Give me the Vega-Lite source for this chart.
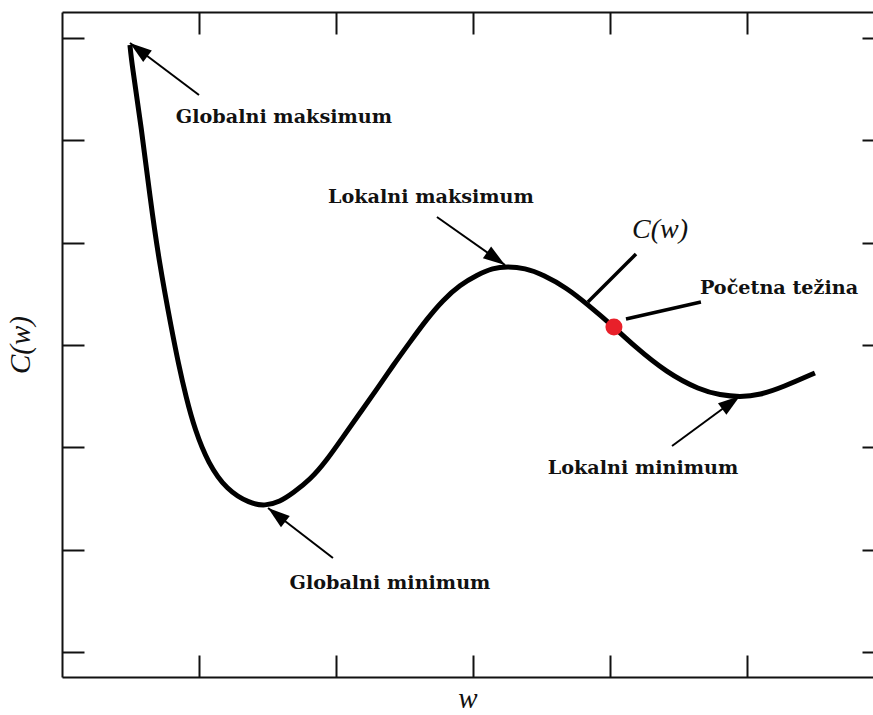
{
  "$schema": "https://vega.github.io/schema/vega-lite/v6.json",
  "width": 811,
  "height": 665,
  "autosize": {"type": "none"},
  "padding": {"left": 62, "top": 12, "right": 0, "bottom": 38},
  "background": "white",
  "config": {
    "view": {"stroke": null},
    "axis": {"grid": false, "labels": false, "domainColor": "#111", "tickColor": "#111", "domainWidth": 2, "tickWidth": 2, "titleColor": "#111", "titleFont": "Liberation Serif", "titleFontStyle": "italic", "titleFontWeight": "normal", "titleFontSize": 29}
  },
  "datasets": {
    "curve": [
      {"w": 0.496, "c": 2.928}, {"w": 0.509, "c": 2.752}, {"w": 0.582, "c": 2.098}, {"w": 0.642, "c": 1.444},
      {"w": 0.710, "c": 0.800}, {"w": 0.801, "c": 0.146}, {"w": 0.849, "c": -0.176}, {"w": 0.905, "c": -0.507},
      {"w": 0.971, "c": -0.830}, {"w": 1.066, "c": -1.152}, {"w": 1.202, "c": -1.415}, {"w": 1.372, "c": -1.547},
      {"w": 1.482, "c": -1.571}, {"w": 1.591, "c": -1.530}, {"w": 1.686, "c": -1.444}, {"w": 1.810, "c": -1.317},
      {"w": 1.934, "c": -1.122}, {"w": 2.051, "c": -0.898}, {"w": 2.175, "c": -0.664}, {"w": 2.299, "c": -0.429},
      {"w": 2.416, "c": -0.200}, {"w": 2.540, "c": 0.029}, {"w": 2.664, "c": 0.254}, {"w": 2.781, "c": 0.439},
      {"w": 2.905, "c": 0.586}, {"w": 3.029, "c": 0.683}, {"w": 3.146, "c": 0.751}, {"w": 3.248, "c": 0.766},
      {"w": 3.380, "c": 0.751}, {"w": 3.511, "c": 0.686}, {"w": 3.686, "c": 0.556},
      {"w": 3.832, "c": 0.400}, {"w": 4.029, "c": 0.176}, {"w": 4.168, "c": 0.000}, {"w": 4.416, "c": -0.273},
      {"w": 4.657, "c": -0.439}, {"w": 4.803, "c": -0.488}, {"w": 4.949, "c": -0.508}, {"w": 5.095, "c": -0.488},
      {"w": 5.263, "c": -0.410}, {"w": 5.496, "c": -0.273}
    ],
    "arrows": [
      {"x1": 1.000, "y1": 2.440, "x2": 0.496, "y2": 2.947, "angle": 307},
      {"x1": 2.737, "y1": 1.249, "x2": 3.234, "y2": 0.781, "angle": 125},
      {"x1": 1.978, "y1": -2.079, "x2": 1.504, "y2": -1.591, "angle": 308},
      {"x1": 4.453, "y1": -0.986, "x2": 4.949, "y2": -0.498, "angle": 54}
    ],
    "leaders": [
      {"x1": 4.190, "y1": 0.888, "x2": 3.839, "y2": 0.420},
      {"x1": 4.117, "y1": 0.254, "x2": 4.664, "y2": 0.420}
    ],
    "labels": [
      {"x": 1.620, "y": 2.225, "text": "Globalni maksimum"},
      {"x": 2.693, "y": 1.444, "text": "Lokalni maksimum"},
      {"x": 5.234, "y": 0.556, "text": "Početna težina"},
      {"x": 4.241, "y": -1.200, "text": "Lokalni minimum"},
      {"x": 2.394, "y": -2.323, "text": "Globalni minimum"}
    ],
    "start": [{"w": 4.029, "c": 0.176}]
  },
  "resolve": {"axis": {"x": "independent", "y": "independent"}},
  "layer": [
    {
      "mark": {"type": "rule", "color": "#999999", "strokeWidth": 1.5},
      "encoding": {"y": {"datum": 0, "type": "quantitative", "scale": {"domain": [-3.24, 3.25], "nice": false, "zero": false}, "axis": {"orient": "left", "values": [-3, -2, -1, 0, 1, 2, 3], "tickSize": -22, "title": "C(w)", "titlePadding": 26}}}
    },
    {
      "data": {"name": "curve"},
      "mark": {"type": "line", "color": "black", "strokeWidth": 5, "interpolate": "basis"},
      "encoding": {
        "x": {"field": "w", "type": "quantitative", "scale": {"domain": [0, 5.92], "nice": false, "zero": false}, "axis": {"orient": "bottom", "values": [1, 2, 3, 4, 5], "tickSize": -22, "title": "w", "titlePadding": 6, "titleFontSize": 29}},
        "y": {"field": "c", "type": "quantitative", "axis": null}
      }
    },
    {
      "data": {"name": "arrows"},
      "mark": {"type": "rule", "color": "black", "strokeWidth": 2},
      "encoding": {
        "x": {"field": "x1", "type": "quantitative", "axis": {"orient": "top", "values": [1, 2, 3, 4, 5], "tickSize": -22, "title": null}},
        "y": {"field": "y1", "type": "quantitative", "axis": {"orient": "right", "values": [-3, -2, -1, 0, 1, 2, 3], "tickSize": -11, "domain": false, "title": null}},
        "x2": {"field": "x2"},
        "y2": {"field": "y2"}
      }
    },
    {
      "data": {"name": "arrows"},
      "mark": {"type": "point", "shape": "M0,0L-0.65,2L0.65,2Z", "filled": true, "color": "black", "size": 484, "opacity": 1},
      "encoding": {
        "x": {"field": "x2", "type": "quantitative", "axis": null},
        "y": {"field": "y2", "type": "quantitative", "axis": null},
        "angle": {"field": "angle", "type": "quantitative", "scale": null}
      }
    },
    {
      "data": {"name": "leaders"},
      "mark": {"type": "rule", "color": "black", "strokeWidth": 3.5},
      "encoding": {
        "x": {"field": "x1", "type": "quantitative", "axis": null},
        "y": {"field": "y1", "type": "quantitative", "axis": null},
        "x2": {"field": "x2"},
        "y2": {"field": "y2"}
      }
    },
    {
      "data": {"name": "start"},
      "mark": {"type": "point", "shape": "circle", "filled": true, "color": "#e8202a", "size": 290, "opacity": 1},
      "encoding": {
        "x": {"field": "w", "type": "quantitative", "axis": null},
        "y": {"field": "c", "type": "quantitative", "axis": null}
      }
    },
    {
      "data": {"name": "labels"},
      "mark": {"type": "text", "font": "DejaVu Serif", "fontWeight": "bold", "fontSize": 19.2, "color": "#111", "align": "center", "baseline": "middle"},
      "encoding": {
        "x": {"field": "x", "type": "quantitative", "axis": null},
        "y": {"field": "y", "type": "quantitative", "axis": null},
        "text": {"field": "text"}
      }
    },
    {
      "data": {"values": [{"x": 4.365, "y": 1.122, "t": "C(w)"}]},
      "mark": {"type": "text", "font": "Liberation Serif", "fontStyle": "italic", "fontSize": 28, "color": "#111", "align": "center", "baseline": "middle"},
      "encoding": {
        "x": {"field": "x", "type": "quantitative", "axis": null},
        "y": {"field": "y", "type": "quantitative", "axis": null},
        "text": {"field": "t"}
      }
    }
  ]
}
